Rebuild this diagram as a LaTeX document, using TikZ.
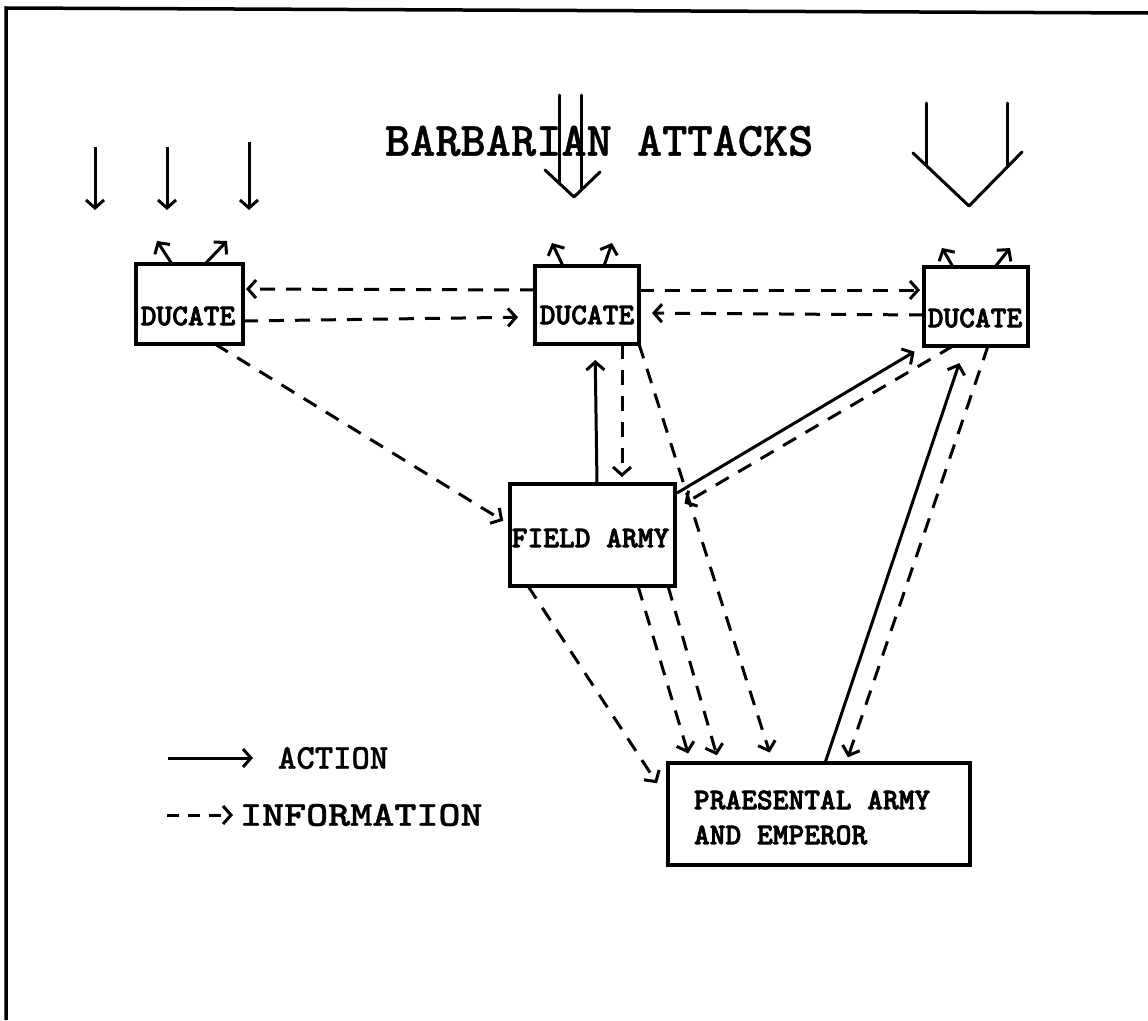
\documentclass[tikz,border=0pt]{standalone}
\usepackage{fontspec}
\usetikzlibrary{arrows.meta,calc}
\newfontfamily\twfont{lmmonolt10-bold.otf}[FakeBold=0.8]
\newfontfamily\bxfont{lmmonolt10-bold.otf}[FakeBold=2.5]
\begin{document}
\begin{tikzpicture}[x=1pt,y=-1pt,
  every node/.style={inner sep=0pt,outer sep=0pt},
  box/.style={draw,line width=3.2pt,rectangle},
  lbl/.style={font=\bxfont\fontsize{30}{35}\selectfont},
  ttl/.style={font=\twfont\fontsize{48}{52}\selectfont},
  leg/.style={font=\twfont\fontsize{35}{40}\selectfont},
  atk/.style={line width=3pt,line cap=round,line join=round},
  act/.style={line width=3pt,-{Straight Barb[length=8pt,width=18pt]}},
  info/.style={act,dash pattern=on 15pt off 11pt},
]
\useasboundingbox (0,0) rectangle (1148,1020);
% frame
\draw[line width=3.5pt] (6,1020) -- (6,8) -- (1148,13);

% title
\node[ttl,anchor=west] (title) at (385,141) {BARBARIAN ATTACKS};

% attacks, left
\coordinate (l1a) at (95,147);  \coordinate (l1b) at (95,210);
\coordinate (l2a) at (167,147); \coordinate (l2b) at (167,210);
\coordinate (l3a) at (249,142); \coordinate (l3b) at (249,210);
\draw[act] (l1a) -- (l1b);
\draw[act] (l2a) -- (l2b);
\draw[act] (l3a) -- (l3b);
% attacks, middle
\draw[atk] (559,95) -- (559,184);
\draw[atk] (581,95) -- (581,190);
\draw[atk] (545,170) -- (574,197) -- (600,172);
% attacks, right
\draw[atk] (926,103) -- (926,165);
\draw[atk] (1007,103) -- (1007,167);
\draw[atk] (913,153) -- (969,206) -- (1022,152);

% boxes
\node[box,minimum width=107pt,minimum height=80pt] (d1) at (189.5,304) {};
\node[lbl] (d1t) at (188,316) {DUCATE};
\node[box,minimum width=104pt,minimum height=78pt] (d2) at (587,305) {};
\node[lbl] (d2t) at (587,315) {DUCATE};
\node[box,minimum width=104pt,minimum height=79pt] (d3) at (976,306.5) {};
\node[lbl] (d3t) at (975,318) {DUCATE};
\node[box,minimum width=165pt,minimum height=102pt] (fa) at (592.5,535) {};
\node[lbl] (fat) at (590.5,538) {FIELD ARMY};
\node[box,minimum width=302pt,minimum height=102pt] (pa) at (819,814) {};
\node[lbl,anchor=west,align=left] (pat) at (694,817.5) {PRAESENTAL ARMY\\[0pt]AND EMPEROR};

% small outgoing arrows on ducates
\draw[act] ($(d1.north west)+(36,0)$) -- ++(-15,-23);
\draw[act] ($(d1.north west)+(69,0)$) -- ++(22,-23);
\draw[act] ($(d2.north west)+(28,0)$) -- ++(-11,-23);
\draw[act] ($(d2.north west)+(69,0)$) -- ++(8,-23);
\draw[act] ($(d3.north west)+(29,0)$) -- ++(-11,-19);
\draw[act] ($(d3.north west)+(71,0)$) -- ++(15,-19);

% ducate <-> ducate
\draw[info,shorten >=3pt] ($(d2.north west)+(0,24)$) -- ($(d1.north east)+(0,25)$);
\draw[info,shorten >=17pt] ($(d1.north east)+(0,57)$) -- ($(d2.north west)+(0,51)$);
\draw[info,shorten >=4pt] ($(d2.north east)+(0,24)$) -- ($(d3.north west)+(0,23)$);
\draw[info,shorten >=13pt] ($(d3.north west)+(0,48)$) -- ($(d2.north east)+(0,47)$);

% to / from field army
\draw[info,shorten >=8pt] ($(d1.south west)+(79,0)$) -- ($(fa.north west)+(0,41)$);
\draw[act,shorten >=16pt] ($(fa.north west)+(87,0)$) -- ($(d2.south west)+(60,0)$);
\draw[info,shorten >=7pt] ($(d2.south west)+(87,0)$) -- ($(fa.north west)+(112,0)$);
\draw[act,shorten >=11pt] ($(fa.north east)+(2,9)$) -- (d3.south west);
\draw[info,shorten >=11pt] ($(d3.south west)+(29,0)$) -- ($(fa.north east)+(0,25)$);

% to / from praesental army
\draw[info,shorten >=11pt] (d2.south east) -- ($(pa.north west)+(105,0)$);
\draw[act,shorten >=18pt] ($(pa.north west)+(157,0)$) -- ($(d3.south west)+(41,0)$);
\draw[info,shorten >=6pt] ($(d3.south west)+(64,0)$) -- ($(pa.north west)+(178,0)$);
\draw[info,shorten >=20pt] ($(fa.south west)+(18,0)$) -- ($(pa.north west)+(0,37)$);
\draw[info,shorten >=10pt] ($(fa.south west)+(128,0)$) -- ($(pa.north west)+(23,0)$);
\draw[info,shorten >=8pt] ($(fa.south west)+(158,0)$) -- ($(pa.north west)+(51,0)$);

% legend
\coordinate (la1) at (168,758); \coordinate (la2) at (253,758);
\coordinate (li1) at (167,815); \coordinate (li2) at (233,815);
\draw[act] (la1) -- (la2);
\draw[info,dash pattern=on 12pt off 9pt] (li1) -- (li2);
\node[leg,anchor=west] (lact) at (278,758) {ACTION};
\node[leg,anchor=west] (linf) at (240,815) {\scalebox{1.2}[1]{INFORMATION}};
\end{tikzpicture}
\end{document}
